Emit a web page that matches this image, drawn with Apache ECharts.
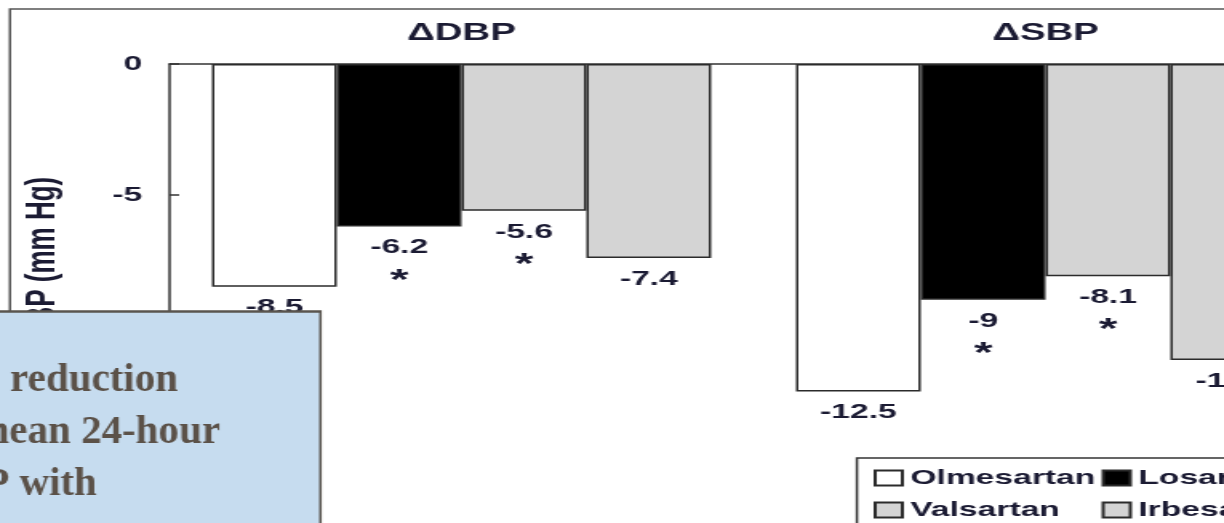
<!DOCTYPE html>
<html>
<head>
<meta charset="utf-8">
<script src="https://cdn.jsdelivr.net/npm/echarts@6/dist/echarts.min.js"></script>
<style>
  html, body { margin: 0; padding: 0; background: #ffffff; overflow: hidden; }
  #wrap { width: 1224px; height: 523px; overflow: hidden; position: relative; }
  /* the source figure is stretched horizontally; draw narrow, then stretch */
  #chart { width: 765px; height: 523px; transform: scaleX(1.6); transform-origin: 0 0; }
</style>
</head>
<body>
<div id="wrap"><div id="chart"></div></div>
<script>
// ---- data ----
const categories = ['ΔDBP', 'ΔSBP'];
const seriesNames = ['Olmesartan', 'Losartan', 'Valsartan', 'Irbesartan'];
const olmesartan = [-8.5, -12.5];
const losartan = [-6.2, -9];
const valsartan = [-5.6, -8.1];
const irbesartan = [-7.4, -11.3];
// significance markers (*) under each bar
const olmesartanSig = [false, false];
const losartanSig = [true, true];
const valsartanSig = [true, true];
const irbesartanSig = [false, false];
const yTicks = { min: -15, max: 0, interval: 5 };
const yAxisTitle = 'ΔBP (mm Hg)';
const noteLines = ['Greater reduction', 'in mean 24-hour', 'DBP with'];

const S = 1.6; // horizontal stretch of the source figure
const textColor = '#1b1b33';
const sans = '"Liberation Sans", Arial, sans-serif';

function makeSeries(name, values, sig, color) {
  return {
    name: name,
    type: 'bar',
    data: values,
    barWidth: 78,
    barGap: '0%',
    itemStyle: { color: color, borderColor: '#2b2b2b', borderWidth: 1.5 },
    label: {
      show: true,
      position: 'bottom',
      distance: 8,
      color: textColor,
      fontFamily: sans,
      fontWeight: 'bold',
      fontSize: 21,
      lineHeight: 26,
      formatter: function (p) { return p.value + (sig[p.dataIndex] ? '\n{s|*}' : ''); },
      rich: {
        s: { fontFamily: sans, fontWeight: 'bold', fontSize: 30, lineHeight: 30, color: textColor, padding: [10, 0, 0, 0] }
      }
    }
  };
}

const legendBase = {
  orient: 'vertical', top: 467.5, itemGap: 11, padding: 0,
  icon: 'rect', itemWidth: 17, itemHeight: 15,
  textStyle: { color: textColor, fontFamily: sans, fontWeight: 'bold', fontSize: 21, lineHeight: 21 }
};

const chart = echarts.init(document.getElementById('chart'));
chart.setOption({
  animation: false,
  backgroundColor: '#ffffff',
  grid: { left: 106, top: 64, width: 730, height: 393, containLabel: false, outerBoundsMode: 'none' },
  xAxis: {
    type: 'category',
    position: 'top',
    data: categories,
    axisLine: { show: true, lineStyle: { color: '#333333', width: 1.5 } },
    axisTick: { show: false },
    axisLabel: { color: textColor, fontFamily: sans, fontWeight: 'bold', fontSize: 24, margin: 19 }
  },
  yAxis: {
    type: 'value',
    min: yTicks.min,
    max: yTicks.max,
    interval: yTicks.interval,
    name: yAxisTitle,
    nameLocation: 'middle',
    nameGap: 66,
    nameRotate: 90,
    nameTextStyle: { color: textColor, fontFamily: sans, fontWeight: 'bold', fontSize: 26 },
    axisLine: { show: true, lineStyle: { color: '#333333', width: 1.5 } },
    axisTick: { show: true, inside: true, length: 6, lineStyle: { color: '#333333', width: 1.5 } },
    splitLine: { show: false },
    axisLabel: { color: textColor, fontFamily: sans, fontWeight: 'bold', fontSize: 21, margin: 17 }
  },
  legend: [
    Object.assign({}, legendBase, { data: ['Olmesartan', 'Valsartan'], left: 546 }),
    Object.assign({}, legendBase, { data: ['Losartan', 'Irbesartan'], left: 688.5 })
  ],
  series: [
    makeSeries(seriesNames[0], olmesartan, olmesartanSig, '#ffffff'),
    makeSeries(seriesNames[1], losartan, losartanSig, '#000000'),
    makeSeries(seriesNames[2], valsartan, valsartanSig, '#d4d4d4'),
    makeSeries(seriesNames[3], irbesartan, irbesartanSig, '#d4d4d4')
  ],
  graphic: [
    { type: 'rect', silent: true, z: -1,
      shape: { x: 6.25, y: 9, width: 1000, height: 1000 },
      style: { fill: 'none', stroke: '#555555', lineWidth: 1.5 } },
    { type: 'rect', silent: true, z: 5,
      shape: { x: 535.6, y: 458, width: 1000, height: 1000 },
      style: { fill: 'none', stroke: '#333333', lineWidth: 1.5 } },
    { type: 'group', x: 0, y: 0, scaleX: 1 / S, z: 100,
      children: [
        { type: 'rect', z: 100,
          shape: { x: -20, y: 311.5, width: 340.5, height: 300 },
          style: { fill: '#c6dcef', stroke: '#5a554f', lineWidth: 2.5 } },
        { type: 'text', z: 101, x: 178, y: 380,
          style: { text: noteLines[0], fill: '#5b5148', font: 'bold 41px "Liberation Serif", "Times New Roman", serif', align: 'right', verticalAlign: 'middle' } },
        { type: 'text', z: 101, x: 220, y: 432,
          style: { text: noteLines[1], fill: '#5b5148', font: 'bold 41px "Liberation Serif", "Times New Roman", serif', align: 'right', verticalAlign: 'middle' } },
        { type: 'text', z: 101, x: 97, y: 484,
          style: { text: noteLines[2], fill: '#5b5148', font: 'bold 41px "Liberation Serif", "Times New Roman", serif', align: 'right', verticalAlign: 'middle' } }
      ]
    }
  ]
});
</script>
</body>
</html>
